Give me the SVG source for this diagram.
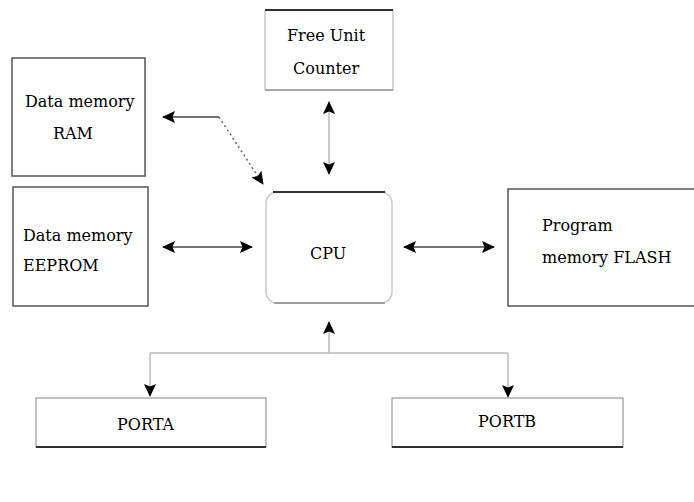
<svg xmlns="http://www.w3.org/2000/svg" width="694" height="502" viewBox="0 0 694 502">
<defs>
<style>
text{font-family:"DejaVu Serif","Liberation Serif",serif;font-size:16px;fill:#000}
.box{fill:#fff;stroke:#555;stroke-width:1.5}
.dk{stroke:#333;stroke-width:2;fill:none}
.lt{stroke:#c8c8c8;stroke-width:1.5;fill:none}
.md{stroke:#888;stroke-width:1.5;fill:none}
.c{fill:none;stroke:#444;stroke-width:1.5}
.cl{fill:none;stroke:#bbb;stroke-width:1.5}
.cd{fill:none;stroke:#666;stroke-width:1.5;stroke-dasharray:2 3}
</style>
<marker id="ah" viewBox="0 0 13 12" markerWidth="13" markerHeight="12" refX="12" refY="6" orient="auto-start-reverse" markerUnits="userSpaceOnUse">
<path d="M0,0 L13,6 L0,12 L2.5,6 z" fill="#000"/>
</marker>
</defs>
<rect width="694" height="502" fill="#fff"/>
<g id="connectors">
<path class="c" d="M219,117 L163,117" marker-end="url(#ah)"/>
<path class="cd" d="M219,117 L263,184" marker-end="url(#ah)"/>
<path class="cl" d="M329,102 L329,174" marker-start="url(#ah)" marker-end="url(#ah)"/>
<path class="c" d="M163,247 L252,247" marker-start="url(#ah)" marker-end="url(#ah)"/>
<path class="c" d="M404,247 L494,247" marker-start="url(#ah)" marker-end="url(#ah)"/>
<path class="cl" d="M329,353 L329,322" marker-end="url(#ah)"/>
<path class="cl" d="M150,353 L508,353"/>
<path class="cl" d="M150,353 L150,396" marker-end="url(#ah)"/>
<path class="cl" d="M508,353 L508,397" marker-end="url(#ah)"/>
</g>
<g id="free-unit-counter">
<rect x="265" y="10" width="128" height="80" fill="#fff" stroke="none"/>
<path class="lt" d="M265,10 V90 M393,10 V90"/>
<path class="md" d="M265,90 H393"/>
<path class="dk" d="M265,10 H393"/>
<text x="287" y="41">Free Unit</text>
<text x="293" y="74">Counter</text>
</g>
<g id="ram">
<rect class="box" x="12" y="58" width="133" height="118"/>
<text x="25" y="107">Data memory</text>
<text x="53" y="139">RAM</text>
</g>
<g id="eeprom">
<rect class="box" x="13" y="187" width="135" height="119"/>
<text x="23" y="241">Data memory</text>
<text x="23" y="271">EEPROM</text>
</g>
<g id="cpu">
<rect x="266" y="192" width="126" height="111" rx="11" fill="#fff" stroke="#ccc" stroke-width="1.5"/>
<path class="dk" d="M273,192 H385"/>
<path class="md" d="M274,303 H385"/>
<text x="310" y="259">CPU</text>
</g>
<g id="flash">
<rect class="box" x="508" y="189" width="200" height="117"/>
<text x="542" y="231">Program</text>
<text x="542" y="263">memory FLASH</text>
</g>
<g id="porta">
<rect x="36" y="398" width="230" height="49" fill="#fff" stroke="#999" stroke-width="1.2"/>
<path class="dk" d="M36,447 H266"/>
<text x="117" y="430">PORTA</text>
</g>
<g id="portb">
<rect x="392" y="398" width="231" height="49" fill="#fff" stroke="#999" stroke-width="1.2"/>
<path class="dk" d="M392,447 H623"/>
<text x="478" y="427">PORTB</text>
</g>
</svg>
